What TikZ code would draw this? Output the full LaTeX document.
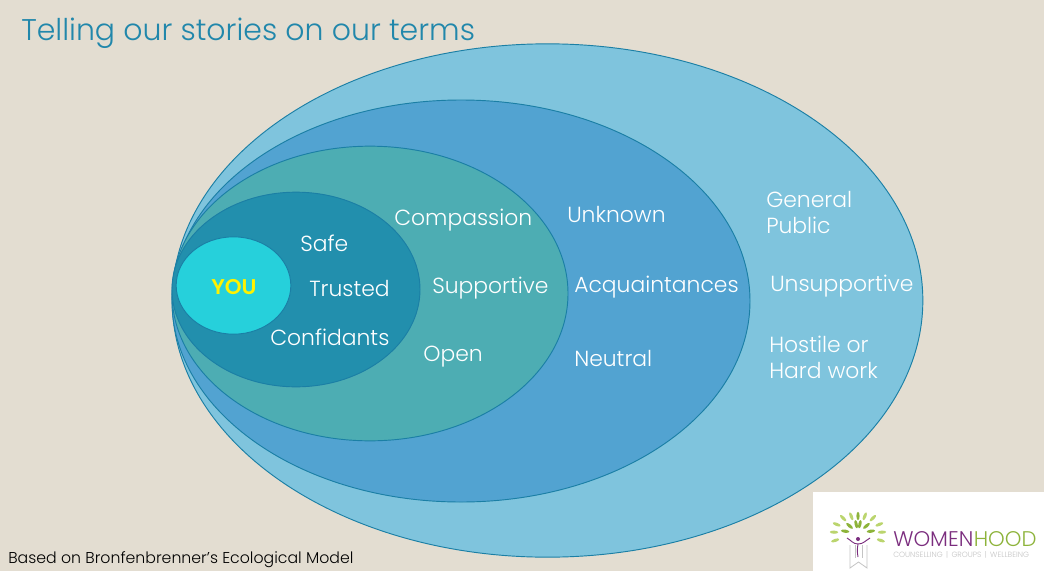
\documentclass[tikz,border=0pt]{standalone}
\usepackage{fontspec}
\setmainfont{Poppins Light}[BoldFont={Poppins SemiBold}]
\usetikzlibrary{shapes.geometric}
\definecolor{bgsand}{HTML}{E3DDD1}
\definecolor{ringline}{HTML}{1B7FA5}
\definecolor{ringpublic}{HTML}{7FC4DD}
\definecolor{ringneutral}{HTML}{52A3D1}
\definecolor{ringsupport}{HTML}{4DADB3}
\definecolor{ringsafe}{HTML}{228FAD}
\definecolor{ringyou}{HTML}{26D0DB}
\definecolor{titleblue}{HTML}{2187AB}
\definecolor{logopurple}{HTML}{7B2D7E}
\definecolor{logogreen}{HTML}{8DB33A}
\definecolor{logolight}{HTML}{BBD56E}
\definecolor{logogrey}{HTML}{C4C4C4}
\tikzset{
  ring/.style={ellipse,draw=ringline,line width=0.7pt,inner sep=0pt},
  ringlabel/.style={anchor=west,text=white,inner sep=0pt,align=left,font=\fontsize{16.4}{20}\selectfont}
}

\begin{document}
\begin{tikzpicture}[x=0.75pt,y=-0.75pt]
  % Background
  \fill [bgsand] (0,0) rectangle (1044,571);
  \useasboundingbox (0,0) rectangle (1044,571);

  % Title and source line
  \node [anchor=west,text=titleblue,inner sep=0pt,font=\fontsize{22.45}{26}\selectfont] (title) at (21,33) {Telling our stories on our terms};
  \node [anchor=west,text=black,inner sep=0pt,font=\fontsize{11.8}{14}\selectfont] (source) at (8,560) {Based on Bronfenbrenner’s Ecological Model};

  % Nested ellipses, from the outside in
  \node [ring,fill=ringpublic,minimum width=563pt,minimum height=385pt] (public) at (547.5,300.5) {};
  \node [ring,fill=ringneutral,minimum width=433.5pt,minimum height=301.5pt] (neutral) at (461,301) {};
  \node [ring,fill=ringsupport,minimum width=297pt,minimum height=221pt] (support) at (370,293.5) {};
  \node [ring,fill=ringsafe,minimum width=186pt,minimum height=146pt] (safe) at (296,289.5) {};
  \node [ring,fill=ringyou,minimum width=86pt,minimum height=73pt] (you) at (233.5,285.5) {};
  \node [text=yellow,inner sep=0pt,font=\fontsize{16}{18}\selectfont\bfseries] (youtext) at (234,287) {YOU};

  % Labels in each ring
  \foreach \x/\y/\name/\lab in {
    300/243/lsafe/Safe, 309/289/ltrusted/Trusted, 270/337/lconf/Confidants,
    394/220/lcomp/Compassion, 432/288/lsupp/Supportive, 423/357/lopen/Open,
    567/214/lunknown/Unknown, 574/287/lacq/Acquaintances, 574/359/lneutral/Neutral,
    770/286/lunsupp/Unsupportive} {
    \node [ringlabel] (\name) at (\x,\y) {\lab};
  }
  \node [ringlabel] (lgeneral) at (766,212.5) {General\\Public};
  \node [ringlabel] (lhostile) at (769,357.5) {Hostile or\\Hard work};

  % Logo panel
  \fill [white] (813,492) rectangle (1044,571);

  % Logo bookmark
  \draw [logogrey,line width=0.6pt] (850,545) -- (850,568) -- (858.5,562) -- (867,568) -- (867,545);
  \draw [logogrey,line width=0.5pt] (855,545) -- (855,558) (862,545) -- (862,558);

  % Logo leaves
  \foreach \a/\r/\c in {90/17/logogreen, 68/18/logolight, 112/18/logolight, 45/21/logolight, 135/21/logolight,
    22/23/logolight, 158/23/logolight, 2/24/logolight, 178/24/logolight, -18/24/logolight, 198/24/logolight,
    78/9/logogreen, 102/9/logogreen, 40/11/logogreen, 140/11/logogreen, 8/13/logogreen, 172/13/logogreen} {
    \fill [\c,shift={(858,533)},rotate=\a] (\r,0) ellipse (4.2 and 1.6);
  }

  % Logo figure
  \fill [logopurple] (858,539) circle (2);
  \draw [logopurple,line width=0.7pt] (847,538) to [out=-30,in=180] (858,544) to [out=0,in=-150] (870,538);
  \draw [logopurple,line width=0.7pt] (858,544) to [out=-100,in=100] (858,557);

  % Logo wordmark
  \node [anchor=west,text=logopurple,inner sep=0pt,font=\fontsize{15.9}{18}\selectfont] (logowomen) at (893,539) {WOMEN};
  \node [anchor=west,text=logogreen,inner sep=0pt,font=\fontsize{15.9}{18}\selectfont] (logohood) at (logowomen.east) {HOOD};
  \node [anchor=west,text=logogrey,inner sep=0pt,font=\fontsize{5.7}{7}\selectfont] (logosub) at (893,555) {COUNSELLING \,|\, GROUPS \,|\, WELLBEING};
\end{tikzpicture}
\end{document}
